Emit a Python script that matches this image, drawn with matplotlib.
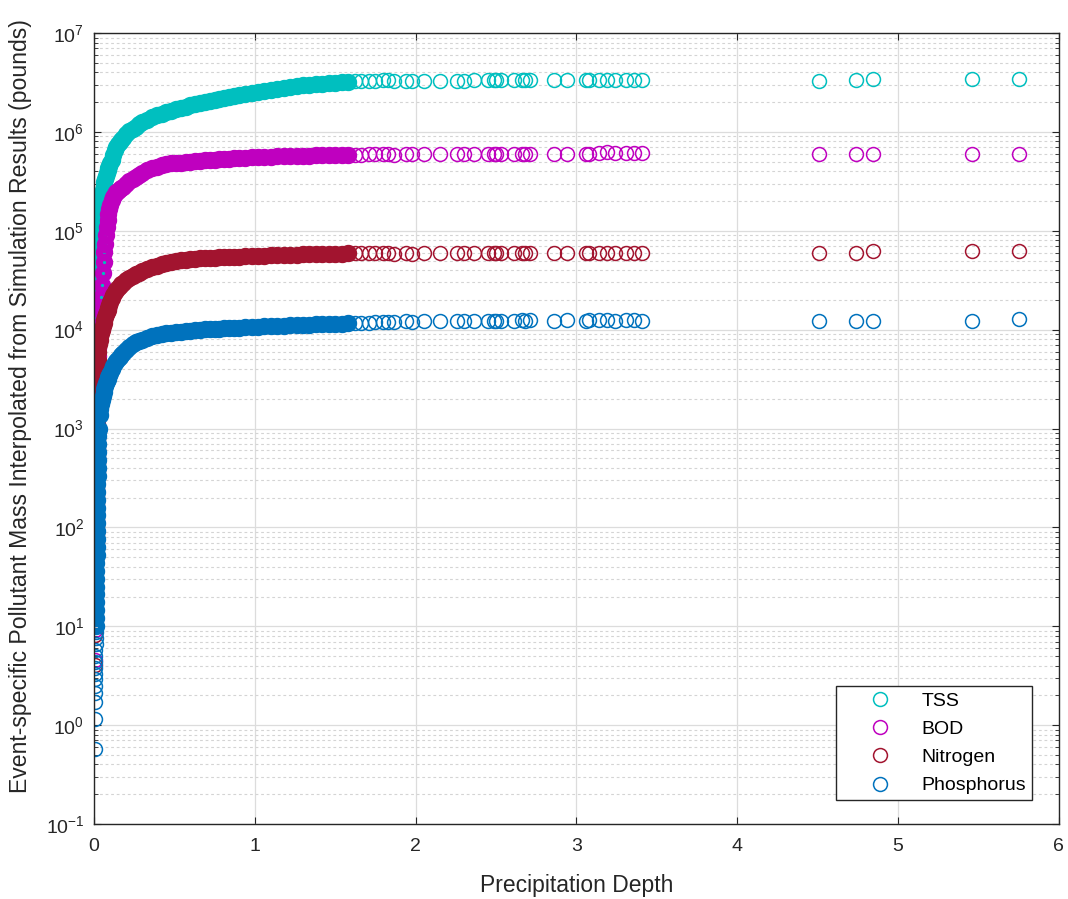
import matplotlib
matplotlib.use("Agg")
import matplotlib.pyplot as plt
from matplotlib.ticker import FixedLocator, LogLocator, NullFormatter

plt.rcParams['font.family'] = ['Liberation Sans', 'DejaVu Sans']

# precipitation depth of each event (shared by the four pollutants)
depth = [0.004, 0.005, 0.005, 0.006, 0.006, 0.007, 0.007, 0.008, 0.008, 0.009,
         0.009, 0.010, 0.010, 0.011, 0.011, 0.012, 0.012, 0.013, 0.013, 0.014,
         0.014, 0.015, 0.015, 0.016, 0.016, 0.017, 0.017, 0.018, 0.018, 0.019,
         0.019, 0.020, 0.021, 0.022, 0.023, 0.024, 0.025, 0.026, 0.028, 0.030,
         0.035, 0.04, 0.045, 0.05, 0.055, 0.06, 0.065, 0.07, 0.075, 0.08,
         0.085, 0.09, 0.095, 0.10, 0.11, 0.12, 0.13, 0.14, 0.15, 0.16, 0.17, 0.18,
         0.20, 0.22, 0.24, 0.26, 0.28, 0.30, 0.33, 0.36, 0.39, 0.42, 0.45, 0.48,
         0.51, 0.54, 0.57, 0.60, 0.63, 0.66, 0.69, 0.72, 0.75, 0.78, 0.81, 0.84,
         0.87, 0.90, 0.94, 0.98, 1.02, 1.06, 1.10, 1.14, 1.18, 1.22, 1.26, 1.30,
         1.34, 1.38, 1.42, 1.46, 1.50, 1.54, 1.58, 1.62, 1.66, 1.71, 1.75, 1.80, 1.83,
         1.865, 1.94, 1.98, 2.05, 2.15, 2.26, 2.30, 2.36, 2.45, 2.49, 2.50, 2.53,
         2.61, 2.66, 2.68, 2.71, 2.86, 2.94, 3.06, 3.08, 3.14, 3.19, 3.24, 3.31,
         3.36, 3.41,
         4.51, 4.74, 4.845, 5.46, 5.75]

tss = [73, 145, 214, 265, 315, 365, 416, 479, 554, 630,
       731, 832, 958, 1100, 1260, 1510, 1830, 2190, 2650, 3150,
       3780, 4540, 5540, 6550, 7940, 9580, 11500, 13900, 16600, 19900,
       23900, 28900, 34700, 41700, 50100, 60400, 72500, 87200, 105000, 126000,
       1.51e5, 1.78e5, 2.04e5, 2.29e5, 2.57e5, 2.82e5, 3.09e5, 3.31e5, 3.55e5, 3.80e5,
       4.07e5, 4.27e5, 4.52e5, 4.79e5, 5.25e5, 5.89e5, 6.61e5, 7.08e5, 7.50e5, 7.94e5,
       8.32e5, 8.71e5,
       9.44e5, 1.01e6, 1.07e6, 1.12e6, 1.19e6, 1.26e6, 1.33e6, 1.41e6, 1.48e6, 1.53e6,
       1.58e6, 1.64e6, 1.70e6, 1.76e6, 1.80e6, 1.86e6, 1.91e6, 1.95e6, 2.00e6, 2.04e6,
       2.09e6, 2.16e6, 2.21e6, 2.26e6, 2.32e6, 2.37e6, 2.43e6, 2.48e6, 2.54e6, 2.60e6,
       2.66e6, 2.72e6, 2.79e6, 2.85e6, 2.92e6, 2.95e6, 2.99e6, 3.02e6, 3.05e6, 3.09e6,
       3.13e6, 3.16e6, 3.20e6, 3.24e6, 3.24e6, 3.27e6, 3.27e6, 3.31e6, 3.31e6,
       3.25e6, 3.27e6, 3.27e6, 3.28e6, 3.30e6, 3.28e6, 3.30e6, 3.32e6, 3.33e6, 3.32e6,
       3.33e6, 3.33e6, 3.32e6, 3.34e6, 3.33e6, 3.34e6, 3.33e6, 3.34e6, 3.33e6, 3.34e6,
       3.36e6, 3.35e6, 3.34e6, 3.35e6, 3.35e6, 3.34e6,
       3.30e6, 3.32e6, 3.42e6, 3.42e6, 3.44e6]

bod = [4.6, 9.1, 13, 17, 20, 23, 26, 30, 35, 40,
       46, 52, 60, 69, 79, 95, 115, 137, 166, 198,
       237, 284, 348, 411, 498, 600, 719, 869, 1040, 1250,
       1500, 1810, 2170, 2610, 3140, 3780, 4540, 5470, 6570, 7900,
       1.12e4, 1.58e4, 2.14e4, 2.82e4, 3.72e4, 4.79e4, 6.03e4, 7.41e4, 9.12e4, 1.10e5,
       1.29e5, 1.48e5, 1.66e5, 1.82e5, 2.04e5, 2.19e5, 2.34e5, 2.45e5, 2.54e5, 2.63e5,
       2.69e5, 2.79e5,
       2.95e5, 3.16e5, 3.31e5, 3.47e5, 3.63e5, 3.80e5, 4.07e5, 4.27e5, 4.42e5, 4.57e5,
       4.68e5, 4.79e5, 4.84e5, 4.90e5, 4.95e5, 5.01e5, 5.07e5, 5.13e5, 5.17e5, 5.21e5,
       5.25e5, 5.29e5, 5.33e5, 5.37e5, 5.41e5, 5.45e5, 5.49e5, 5.53e5, 5.56e5, 5.59e5,
       5.62e5, 5.65e5, 5.68e5, 5.70e5, 5.72e5, 5.74e5, 5.76e5, 5.78e5, 5.80e5, 5.82e5,
       5.84e5, 5.86e5, 5.88e5, 5.89e5, 5.90e5, 5.91e5, 5.92e5, 5.93e5, 5.94e5,
       5.90e5, 5.92e5, 5.92e5, 5.94e5, 5.95e5, 5.93e5, 5.96e5, 5.95e5, 5.97e5, 5.95e5,
       5.97e5, 5.98e5, 5.96e5, 5.98e5, 5.99e5, 5.98e5, 5.95e5, 5.96e5, 5.97e5, 6.00e5,
       6.10e5, 6.20e5, 6.10e5, 6.15e5, 6.10e5, 6.10e5,
       5.95e5, 5.98e5, 6.00e5, 6.00e5, 5.98e5]

nitrogen = [4.1, 8.2, 12, 15, 18, 21, 23, 27, 31, 36,
            41, 47, 54, 62, 71, 85, 103, 124, 149, 178,
            213, 256, 312, 369, 447, 540, 646, 781, 937, 1120,
            1350, 1630, 1950, 2350, 2830, 3400, 4080, 4910, 5910, 7100,
            7.94e3, 8.71e3, 9.33e3, 1.00e4, 1.10e4, 1.18e4, 1.26e4, 1.35e4, 1.45e4, 1.51e4,
            1.58e4, 1.66e4, 1.78e4, 1.91e4, 2.09e4, 2.24e4, 2.40e4, 2.51e4, 2.63e4, 2.75e4,
            2.88e4, 2.99e4,
            3.16e4, 3.31e4, 3.47e4, 3.63e4, 3.76e4, 3.89e4, 4.07e4, 4.27e4, 4.42e4, 4.57e4,
            4.68e4, 4.79e4, 4.90e4, 5.01e4, 5.07e4, 5.13e4, 5.19e4, 5.25e4, 5.28e4, 5.31e4,
            5.34e4, 5.37e4, 5.40e4, 5.43e4, 5.46e4, 5.49e4, 5.52e4, 5.55e4, 5.58e4, 5.61e4,
            5.64e4, 5.67e4, 5.70e4, 5.72e4, 5.74e4, 5.76e4, 5.78e4, 5.80e4, 5.82e4, 5.84e4,
            5.86e4, 5.88e4, 5.90e4, 5.91e4, 5.92e4, 5.93e4, 5.94e4, 5.95e4, 5.96e4,
            58500, 59000, 58800, 59000, 59300, 59000, 59200, 59500, 59500, 59300,
            59600, 59500, 59400, 59800, 59600, 59500, 59600, 59700, 59600, 59800,
            60000, 59700, 59600, 59800, 59800, 59700,
            59000, 59200, 62000, 62000, 62000]

phosphorus = [0.58, 1.15, 1.7, 2.1, 2.5, 2.9, 3.3, 3.8, 4.4, 5.0,
              5.8, 6.6, 7.6, 8.7, 10, 12, 14.5, 17.4, 21, 25,
              30, 36, 44, 52, 63, 76, 91, 110, 132, 158,
              190, 229, 275, 331, 398, 479, 575, 692, 832, 1000,
              1380, 1585, 1778, 1950, 2138, 2344, 2512, 2692, 2884, 3020,
              3162, 3311, 3467, 3631, 3981, 4266, 4571, 4786, 5012, 5248,
              5495, 5754,
              6166, 6607, 7079, 7413, 7762, 7943, 8318, 8610, 8810, 9016,
              9183, 9333, 9441, 9550, 9660, 9772, 9886, 10000, 10050, 10100,
              10160, 10220, 10280, 10340, 10400, 10460, 10540, 10620, 10700, 10780,
              10850, 10920, 10990, 11050, 11110, 11170, 11230, 11290, 11350, 11410,
              11470, 11520, 11580, 11640, 11700, 11780, 11850, 11920, 11980,
              12000, 12100, 12000, 12100, 12200, 12100, 12200, 12200, 12300, 12200,
              12300, 12300, 12300, 12400, 12300, 12400, 12300, 12400, 12300, 12400,
              12500, 12400, 12300, 12400, 12400, 12300,
              12300, 12300, 12300, 12200, 12900]

names = ['TSS', 'BOD', 'Nitrogen', 'Phosphorus']
colors = ['#00BFBF', '#BF00BF', '#A2142F', '#0072BD']
yticks = [1e-1, 1e0, 1e1, 1e2, 1e3, 1e4, 1e5, 1e6, 1e7]

# events where thousands of overlapping circles form a solid band
d0, d1 = 14, 105

fig = plt.figure(figsize=(10.68, 8.99), dpi=100)
ax = fig.add_axes([0.088, 0.0834, 0.9035, 0.8799])

for vals, name, c in zip([tss, bod, nitrogen, phosphorus], names, colors):
    ax.plot(depth[d0:d1], vals[d0:d1], 'o', linestyle='none', markersize=7.5,
            markerfacecolor='none', markeredgecolor=c, markeredgewidth=5)
    ax.plot(depth[:d0] + depth[d1:], vals[:d0] + vals[d1:], 'o',
            linestyle='none', markersize=10, markerfacecolor='none',
            markeredgecolor=c, markeredgewidth=1.1, label=name)

ax.set_yscale('log')
ax.set_xlim(0, 6)
ax.set_ylim(1e-1, 1e7)
ax.yaxis.set_major_locator(FixedLocator(yticks))
ax.yaxis.set_minor_locator(LogLocator(base=10, subs=range(2, 10), numticks=20))
ax.yaxis.set_minor_formatter(NullFormatter())

ax.grid(True, which='major', color='#dcdcdc', linewidth=0.9)
ax.grid(True, which='minor', axis='y', color='#d4d4d4', linewidth=0.8,
        linestyle=(0, (2.5, 2.5)))
ax.set_axisbelow(True)

ax.tick_params(which='both', direction='in', top=True, right=True,
               colors='#262626', labelsize=14)
ax.tick_params(which='major', length=5)
ax.tick_params(which='minor', length=3)
ax.tick_params(axis='x', pad=10)
ax.tick_params(axis='y', pad=7)
for s in ax.spines.values():
    s.set_color('#262626')
    s.set_linewidth(1.0)

ax.set_xlabel('Precipitation Depth', fontsize=16.5, color='#262626', labelpad=14)
ax.set_ylabel('Event-specific Pollutant Mass Interpolated from Simulation Results (pounds)',
              fontsize=16.6, color='#262626')
ax.yaxis.set_label_coords(-0.064, 0.528)

leg = ax.legend(loc='lower right', bbox_to_anchor=(0.972, 0.030), fontsize=14,
                fancybox=False, edgecolor='#262626', framealpha=1,
                handlelength=3.9, handletextpad=0.2, labelspacing=0.55,
                borderpad=0.3, borderaxespad=0)
leg.get_frame().set_linewidth(1.0)

fig.savefig('out.png', dpi=100)
